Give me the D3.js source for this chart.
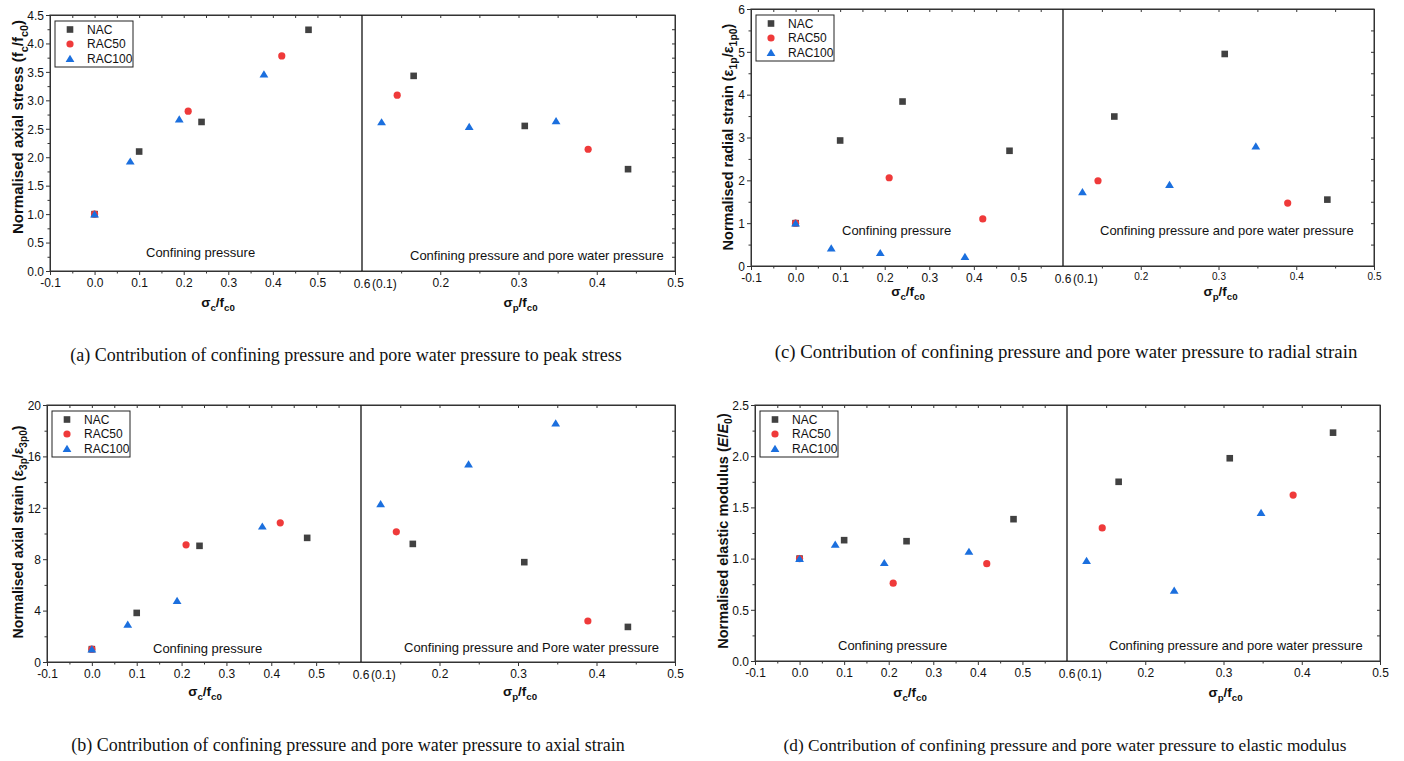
<!DOCTYPE html>
<html>
<head>
<meta charset="utf-8">
<script src="https://cdn.jsdelivr.net/npm/d3@7"></script>
<style>
    body { margin: 0; background: #fff; }
    svg { display: block; font-family: "Liberation Sans", Arial, sans-serif; }
</style>
</head>
<body>
<div id="chart"></div>
<script>
// ---- data ----
const seriesNames = ['NAC', 'RAC50', 'RAC100'];
const seriesColors = ['#414141', '#ef3a3a', '#1b6fde'];

// x values: sigma_c/f_c0 (confining part) and sigma_p/f_c0 (pore water part)
const nacConfX = [0, 0.10, 0.24, 0.48];
const rac50ConfX = [0, 0.21, 0.42];
const rac100ConfX = [0, 0.08, 0.19, 0.38];
const nacPoreX = [0.166, 0.308, 0.44];
const rac50PoreX = [0.145, 0.389];
const rac100PoreX = [0.125, 0.237, 0.348];

// (a) normalised axial stress
const stressNacConf = [1.0, 2.10, 2.62, 4.24];
const stressRac50Conf = [1.0, 2.81, 3.78];
const stressRac100Conf = [1.0, 1.93, 2.67, 3.46];
const stressNacPore = [3.43, 2.55, 1.79];
const stressRac50Pore = [3.09, 2.14];
const stressRac100Pore = [2.62, 2.54, 2.64];

// (b) normalised axial strain
const axialNacConf = [1.0, 3.82, 9.04, 9.66];
const axialRac50Conf = [1.0, 9.12, 10.83];
const axialRac100Conf = [1.0, 2.93, 4.78, 10.57];
const axialNacPore = [9.19, 7.77, 2.73];
const axialRac50Pore = [10.13, 3.19];
const axialRac100Pore = [12.31, 15.4, 18.6];

// (c) normalised radial strain
const radialNacConf = [1.0, 2.93, 3.84, 2.69];
const radialRac50Conf = [1.0, 2.06, 1.10];
const radialRac100Conf = [1.0, 0.42, 0.31, 0.22];
const radialNacPore = [3.49, 4.95, 1.55];
const radialRac50Pore = [1.99, 1.47];
const radialRac100Pore = [1.73, 1.90, 2.80];

// (d) normalised elastic modulus
const modNacConf = [1.0, 1.18, 1.17, 1.385];
const modRac50Conf = [1.0, 0.76, 0.95];
const modRac100Conf = [1.0, 1.14, 0.96, 1.07];
const modNacPore = [1.75, 1.98, 2.23];
const modRac50Pore = [1.30, 1.62];
const modRac100Pore = [0.98, 0.69, 1.45];

const leftTicks = [-0.1, 0, 0.1, 0.2, 0.3, 0.4, 0.5];
const leftMinor = [-0.05, 0.05, 0.15, 0.25, 0.35, 0.45, 0.55];
const rightTicks = [0.2, 0.3, 0.4, 0.5];
const rightMinor = [0.15, 0.25, 0.35, 0.45];

const pair = (xs, ys) => xs.map((x, i) => [x, ys[i]]);

const svg = d3.select('#chart').append('svg')
    .attr('width', 1404)
    .attr('height', 761);

// draws text made of segments, sub = subscript, it = italic
function richText(sel, segs, fs) {
    let shifted = false;
    segs.forEach(s => {
        const t = sel.append('tspan').text(s.t);
        if (s.sub && !shifted) { t.attr('dy', fs * 0.3).style('font-size', (fs * 0.72) + 'px'); shifted = true; }
        else if (s.sub) { t.style('font-size', (fs * 0.72) + 'px'); }
        else if (shifted) { t.attr('dy', -fs * 0.3); shifted = false; }
        if (s.it) t.style('font-style', 'italic');
    });
}

function marker(g, shape, color, x, y) {
    if (shape === 0) {
        g.append('rect').attr('x', x - 3.3).attr('y', y - 3.3).attr('width', 6.6).attr('height', 6.6).attr('fill', color);
    } else if (shape === 1) {
        g.append('circle').attr('cx', x).attr('cy', y).attr('r', 3.6).attr('fill', color);
    } else {
        g.append('path').attr('d', `M${x},${y - 3.8}L${x + 4.4},${y + 3.4}L${x - 4.4},${y + 3.4}Z`).attr('fill', color);
    }
}

function styleAxis(a, fs) {
    a.select('.domain').attr('stroke', '#333');
    a.selectAll('.tick line').attr('stroke', '#333');
    a.selectAll('text').style('font-size', fs + 'px').attr('fill', '#111').style('font-family', '"Liberation Sans", Arial, sans-serif');
}

function drawPanel(p) {
    const g = svg.append('g');
    const xL = d3.scaleLinear().domain([-0.1, 0.6]).range([p.x0, p.xd]);
    const xR = d3.scaleLinear().domain([0.1, 0.5]).range([p.xd, p.x1]);
    const y = d3.scaleLinear().domain([0, p.yMax]).range([p.y1, p.y0]);
    const yMaj = d3.range(0, p.yMax + 1e-9, p.yStep);
    const yMin = d3.range(p.yStep / 2, p.yMax, p.yStep);

    // frame
    g.append('rect')
        .attr('x', p.x0).attr('y', p.y0)
        .attr('width', p.x1 - p.x0).attr('height', p.y1 - p.y0)
        .attr('fill', 'none').attr('stroke', '#555').attr('stroke-width', 1.2);

    // left y axis
    const ay = g.append('g').attr('transform', `translate(${p.x0},0)`)
        .call(d3.axisLeft(y).tickValues(yMaj).tickFormat(p.fmt).tickSize(4).tickPadding(2).tickSizeOuter(0));
    styleAxis(ay, 12);
    ay.selectAll('text').attr('dy', '0.36em');
    const ayMin = g.append('g').attr('transform', `translate(${p.x0},0)`)
        .call(d3.axisLeft(y).tickValues(yMin).tickFormat('').tickSize(2.5).tickSizeOuter(0));
    styleAxis(ayMin, 12);

    // right mirror ticks (inward)
    const ar = g.append('g').attr('transform', `translate(${p.x1},0)`)
        .call(d3.axisLeft(y).tickValues(yMaj.concat(yMin)).tickFormat('').tickSize(3).tickSizeOuter(0));
    styleAxis(ar, 12);

    // bottom axes
    const fmtX = d => d.toFixed(1);
    const bl = g.append('g').attr('transform', `translate(0,${p.y1})`)
        .call(d3.axisBottom(xL).tickValues(leftTicks).tickFormat(fmtX).tickSize(4).tickPadding(3).tickSizeOuter(0));
    styleAxis(bl, 12);
    const blm = g.append('g').attr('transform', `translate(0,${p.y1})`)
        .call(d3.axisBottom(xL).tickValues(leftMinor).tickFormat('').tickSize(2.5).tickSizeOuter(0));
    styleAxis(blm, 12);
    const br = g.append('g').attr('transform', `translate(0,${p.y1})`)
        .call(d3.axisBottom(xR).tickValues(rightTicks).tickFormat(fmtX).tickSize(4).tickPadding(3).tickSizeOuter(0));
    styleAxis(br, p.rightFs);
    const brm = g.append('g').attr('transform', `translate(0,${p.y1})`)
        .call(d3.axisBottom(xR).tickValues(rightMinor).tickFormat('').tickSize(2.5).tickSizeOuter(0));
    styleAxis(brm, 12);

    // top mirror ticks (inward)
    const at1 = g.append('g').attr('transform', `translate(0,${p.y0})`)
        .call(d3.axisBottom(xL).tickValues(leftTicks.concat(leftMinor)).tickFormat('').tickSize(3).tickSizeOuter(0));
    styleAxis(at1, 12);
    const at2 = g.append('g').attr('transform', `translate(0,${p.y0})`)
        .call(d3.axisBottom(xR).tickValues(rightTicks.concat(rightMinor)).tickFormat('').tickSize(3).tickSizeOuter(0));
    styleAxis(at2, 12);

    // "0.6 (0.1)" at the divider
    g.append('text').attr('x', xL(0.6)).attr('y', p.y1 + 17).attr('text-anchor', 'middle')
        .style('font-size', '12px').attr('fill', '#111').text('0.6');
    g.append('text').attr('x', xR(0.1) + 10).attr('y', p.y1 + 17)
        .style('font-size', '12px').attr('fill', '#111').text('(0.1)');

    // divider
    g.append('line').attr('x1', p.xd).attr('x2', p.xd).attr('y1', p.y0).attr('y2', p.y1)
        .attr('stroke', '#111').attr('stroke-width', 1.3);

    // notes
    g.append('text').attr('x', p.noteL[0]).attr('y', p.noteL[1])
        .style('font-size', '13px').attr('fill', '#111').text('Confining pressure');
    g.append('text').attr('x', p.noteR[0]).attr('y', p.noteR[1])
        .style('font-size', '13px').attr('fill', '#111').text(p.noteRText);

    // points
    const conf = [pair(nacConfX, p.data[0]), pair(rac50ConfX, p.data[1]), pair(rac100ConfX, p.data[2])];
    const pore = [pair(nacPoreX, p.data[3]), pair(rac50PoreX, p.data[4]), pair(rac100PoreX, p.data[5])];
    seriesNames.forEach((name, si) => {
        conf[si].forEach(d => marker(g, si, seriesColors[si], xL(d[0]), y(d[1])));
        pore[si].forEach(d => marker(g, si, seriesColors[si], xR(d[0]), y(d[1])));
    });

    // legend
    const lg = g.append('g').attr('transform', `translate(${p.x0 + 5},${p.y0 + 6})`);
    lg.append('rect').attr('width', 78).attr('height', 46)
        .attr('fill', '#fff').attr('stroke', '#222').attr('stroke-width', 1);
    seriesNames.forEach((name, i) => {
        marker(lg, i, seriesColors[i], 15, 8.5 + i * 14.5);
        lg.append('text').attr('x', 32).attr('y', 12.8 + i * 14.5)
            .style('font-size', '12px').attr('fill', '#111').text(name);
    });

    // axis titles
    const yl = g.append('text')
        .attr('transform', `translate(${p.yLab[0] + 5},${p.yLab[1]}) rotate(-90)`)
        .attr('text-anchor', 'middle')
        .style('font-size', p.yFs + 'px').style('font-weight', 'bold').attr('fill', '#111');
    richText(yl, p.yTitle, p.yFs);

    const xc = g.append('text').attr('x', p.xLabC).attr('y', p.xLabY)
        .attr('text-anchor', 'middle').style('font-size', '13.5px').style('font-weight', 'bold').attr('fill', '#111');
    richText(xc, [{ t: 'σ' }, { t: 'c', sub: true }, { t: '/f' }, { t: 'c0', sub: true }], 13.5);
    const xp = g.append('text').attr('x', (p.xd + p.x1) / 2 + 2).attr('y', p.xLabY)
        .attr('text-anchor', 'middle').style('font-size', '13.5px').style('font-weight', 'bold').attr('fill', '#111');
    richText(xp, [{ t: 'σ' }, { t: 'p', sub: true }, { t: '/f' }, { t: 'c0', sub: true }], 13.5);

    // caption
    g.append('text').attr('x', p.cap[0]).attr('y', p.cap[1]).attr('text-anchor', 'middle')
        .style('font-family', '"Liberation Serif", "Times New Roman", serif')
        .style('font-size', p.capFs + 'px').attr('fill', '#111').text(p.caption);
}

const panels = [
    {
        x0: 50, x1: 675, xd: 362, y0: 15, y1: 271,
        yMax: 4.5, yStep: 0.5, fmt: d => d.toFixed(1), rightFs: 12,
        data: [stressNacConf, stressRac50Conf, stressRac100Conf, stressNacPore, stressRac50Pore, stressRac100Pore],
        yTitle: [{ t: 'Normalised axial stress (f' }, { t: 'c', sub: true }, { t: '/f' }, { t: 'c0', sub: true }, { t: ')' }],
        yLab: [18, 127], yFs: 15, xLabC: 218, xLabY: 307,
        noteL: [146, 257], noteR: [410, 260], noteRText: 'Confining pressure and pore water pressure',
        caption: '(a) Contribution of confining pressure and pore water pressure to peak stress', cap: [346, 361], capFs: 18
    },
    {
        x0: 751, x1: 1374, xd: 1063, y0: 9, y1: 266,
        yMax: 6, yStep: 1, fmt: d => d.toFixed(0), rightFs: 10,
        data: [radialNacConf, radialRac50Conf, radialRac100Conf, radialNacPore, radialRac50Pore, radialRac100Pore],
        yTitle: [{ t: 'Normalised radial strain (ε' }, { t: '1p', sub: true }, { t: '/ε' }, { t: '1p0', sub: true }, { t: ')' }],
        yLab: [728, 137], yFs: 14.5, xLabC: 908, xLabY: 296,
        noteL: [842, 235], noteR: [1100, 235], noteRText: 'Confining pressure and pore water pressure',
        caption: '(c) Contribution of confining pressure and pore water pressure to radial strain', cap: [1066, 358], capFs: 18.8
    },
    {
        x0: 47, x1: 675, xd: 361, y0: 405, y1: 662,
        yMax: 20, yStep: 4, fmt: d => d.toFixed(0), rightFs: 12,
        data: [axialNacConf, axialRac50Conf, axialRac100Conf, axialNacPore, axialRac50Pore, axialRac100Pore],
        yTitle: [{ t: 'Normalised axial strain (ε' }, { t: '3p', sub: true }, { t: '/ε' }, { t: '3p0', sub: true }, { t: ')' }],
        yLab: [18, 532], yFs: 14, xLabC: 205, xLabY: 696,
        noteL: [153, 653], noteR: [404, 652], noteRText: 'Confining pressure and Pore water pressure',
        caption: '(b) Contribution of confining pressure and pore water pressure to axial strain', cap: [348, 751], capFs: 18
    },
    {
        x0: 755, x1: 1380, xd: 1067, y0: 405, y1: 661,
        yMax: 2.5, yStep: 0.5, fmt: d => d.toFixed(1), rightFs: 12,
        data: [modNacConf, modRac50Conf, modRac100Conf, modNacPore, modRac50Pore, modRac100Pore],
        yTitle: [{ t: 'Normalised elastic modulus (' }, { t: 'E', it: true }, { t: '/' }, { t: 'E', it: true }, { t: '0', sub: true }, { t: ')' }],
        yLab: [723, 531], yFs: 14.5, xLabC: 910, xLabY: 697,
        noteL: [838, 650], noteR: [1109, 650], noteRText: 'Confining pressure and pore water pressure',
        caption: '(d) Contribution of confining pressure and pore water pressure to elastic modulus', cap: [1065, 751], capFs: 17.3
    }
];

panels.forEach(drawPanel);
</script>
</body>
</html>
